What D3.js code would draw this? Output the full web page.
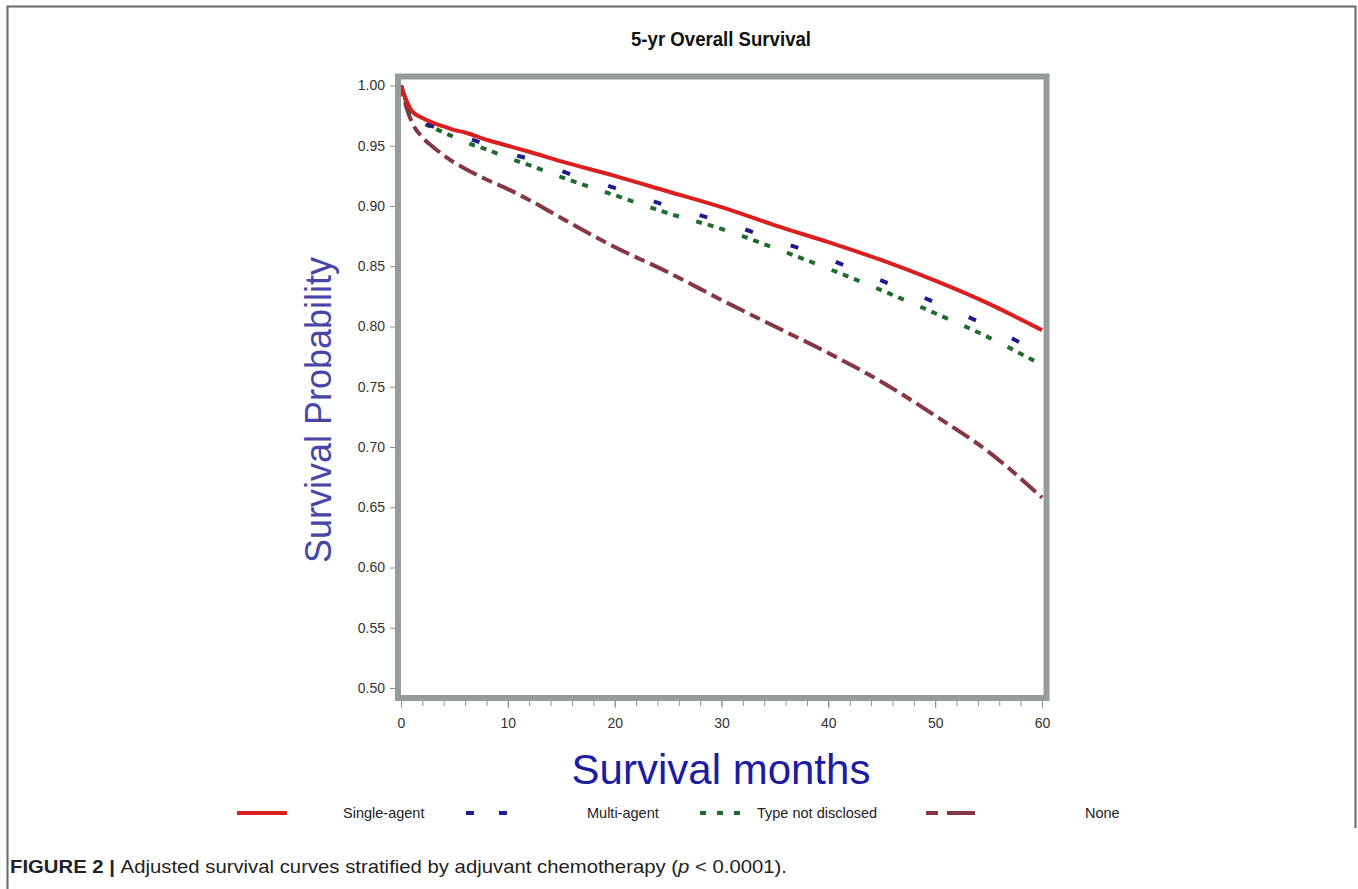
<!DOCTYPE html>
<meta charset="utf-8">
<style>
    body { margin: 0; background: #fff; }
    .axis text { font: 14px "Liberation Sans", Arial, sans-serif; fill: #333; }
    .axis path { display: none; }
    .axis line { stroke: #8a9090; }
</style>
<svg class="chart"></svg>
<script src="https://d3js.org/d3.v7.min.js"></script>
<script>

    const months = [0, 0.5, 1, 2, 3, 4, 5, 6, 8, 10, 12, 15, 20, 25, 30, 35, 40, 45, 50, 55, 60];

    const singleAgent = [1.000, 0.988, 0.979, 0.973, 0.969, 0.966, 0.963, 0.961, 0.955, 0.950, 0.945, 0.937, 0.925, 0.912, 0.899, 0.884, 0.870, 0.855, 0.838, 0.819, 0.797];
    const multiAgent  = [1.000, 0.987, 0.978, 0.970, 0.966, 0.963, 0.960, 0.957, 0.951, 0.944, 0.939, 0.929, 0.915, 0.900, 0.887, 0.872, 0.856, 0.838, 0.820, 0.800, 0.777];
    const notDisclosed = [1.000, 0.986, 0.976, 0.969, 0.965, 0.961, 0.957, 0.953, 0.947, 0.940, 0.934, 0.924, 0.909, 0.894, 0.881, 0.865, 0.848, 0.830, 0.811, 0.791, 0.768];
    const noneChemo   = [1.000, 0.982, 0.970, 0.957, 0.949, 0.942, 0.936, 0.931, 0.922, 0.914, 0.905, 0.890, 0.866, 0.845, 0.822, 0.800, 0.778, 0.754, 0.726, 0.696, 0.658];

    const seriesNames = ["Single-agent", "Multi-agent", "Type not disclosed", "None"];
    const seriesValues = [singleAgent, multiAgent, notDisclosed, noneChemo];
    const seriesColors = ["#d91f1f", "#1c1c8c", "#1f6b2c", "#853844"];
    const seriesDash = [null, "8,40", "6,6,6,6,6,18", "11,6,20,6"];
    const legendDash = [null, "8,25", "6,11", "12,9,29,9"];

    const yTicks = [0.50, 0.55, 0.60, 0.65, 0.70, 0.75, 0.80, 0.85, 0.90, 0.95, 1.00];
    const xTicks = [0, 10, 20, 30, 40, 50, 60];
    const xMinorTicks = d3.range(0, 61, 2);

    const W = 1358, H = 889;

    const svg = d3.select(".chart")
        .attr("width", W)
        .attr("height", H);

    // outer figure box
    svg.append("path")
        .attr("d", `M7.5,${H} V6.5 H1355.5 V828`)
        .attr("fill", "none")
        .attr("stroke", "#666")
        .attr("stroke-width", 2);

    let x = d3.scaleLinear().domain([0, 60]).range([401, 1042]);
    let y = d3.scaleLinear().domain([0.5, 1.0]).range([688, 85.5]);

    svg.append("text")
        .attr("x", 721)
        .attr("y", 46)
        .attr("text-anchor", "middle")
        .attr("textLength", 180)
        .attr("lengthAdjust", "spacingAndGlyphs")
        .style("font", "bold 21px 'Liberation Sans', Arial, sans-serif")
        .attr("fill", "#111")
        .text("5-yr Overall Survival");

    // y axis
    svg.append("g")
        .attr("class", "axis")
        .attr("transform", "translate(395,0)")
        .call(d3.axisLeft(y).tickValues(yTicks).tickFormat(d3.format(".2f")).tickSize(5).tickPadding(5));

    // x axis: minor then major ticks
    svg.append("g")
        .attr("class", "axis")
        .attr("transform", "translate(0,701)")
        .call(d3.axisBottom(x).tickValues(xMinorTicks).tickFormat("").tickSize(5));

    svg.append("g")
        .attr("class", "axis")
        .attr("transform", "translate(0,701)")
        .call(d3.axisBottom(x).tickValues(xTicks).tickSize(7).tickPadding(10));

    // curves
    const line = d3.line()
        .x(d => x(d[0]))
        .y(d => y(d[1]))
        .curve(d3.curveMonotoneX);

    const curves = seriesNames.map((name, i) => ({
        name: name,
        points: months.map((m, j) => [m, seriesValues[i][j]])
    }));

    svg.append("g")
        .selectAll("path")
        .data(curves.slice().reverse())
        .join("path")
        .attr("d", d => line(d.points))
        .attr("fill", "none")
        .attr("stroke", d => seriesColors[seriesNames.indexOf(d.name)])
        .attr("stroke-width", 4)
        .attr("stroke-dasharray", d => seriesDash[seriesNames.indexOf(d.name)]);

    // plot frame
    svg.append("rect")
        .attr("x", 398)
        .attr("y", 76.5)
        .attr("width", 648.5)
        .attr("height", 621.5)
        .attr("fill", "none")
        .attr("stroke", "#969c9c")
        .attr("stroke-width", 6);

    // axis titles
    svg.append("text")
        .attr("transform", "translate(331,410) rotate(-90)")
        .attr("text-anchor", "middle")
        .style("font", "36px 'Liberation Sans', Arial, sans-serif")
        .attr("fill", "#4646a8")
        .text("Survival Probability");

    svg.append("text")
        .attr("x", 721)
        .attr("y", 784)
        .attr("text-anchor", "middle")
        .style("font", "42px 'Liberation Sans', Arial, sans-serif")
        .attr("fill", "#1c1ca0")
        .text("Survival months");

    // legend
    const legendLines = [[237, 287], [466, 508], [700, 740], [926, 975]];
    const legendText = [343, 587, 757, 1085];

    const legend = svg.append("g");
    seriesNames.forEach((name, i) => {
        legend.append("line")
            .attr("x1", legendLines[i][0])
            .attr("x2", legendLines[i][1])
            .attr("y1", 813)
            .attr("y2", 813)
            .attr("stroke", seriesColors[i])
            .attr("stroke-width", 4)
            .attr("stroke-dasharray", legendDash[i]);
        legend.append("text")
            .attr("x", legendText[i])
            .attr("y", 818)
            .style("font", "14.5px 'Liberation Sans', Arial, sans-serif")
            .attr("fill", "#222")
            .text(name);
    });

    // caption
    const cap = svg.append("text")
        .attr("x", 10)
        .attr("y", 873)
        .attr("textLength", 777)
        .attr("lengthAdjust", "spacingAndGlyphs")
        .style("font", "19px 'Liberation Sans', Arial, sans-serif")
        .attr("fill", "#222");
    cap.append("tspan").style("font-weight", "bold").text("FIGURE 2 | ");
    cap.append("tspan").text("Adjusted survival curves stratified by adjuvant chemotherapy (");
    cap.append("tspan").style("font-style", "italic").text("p");
    cap.append("tspan").text(" < 0.0001).");

</script>
